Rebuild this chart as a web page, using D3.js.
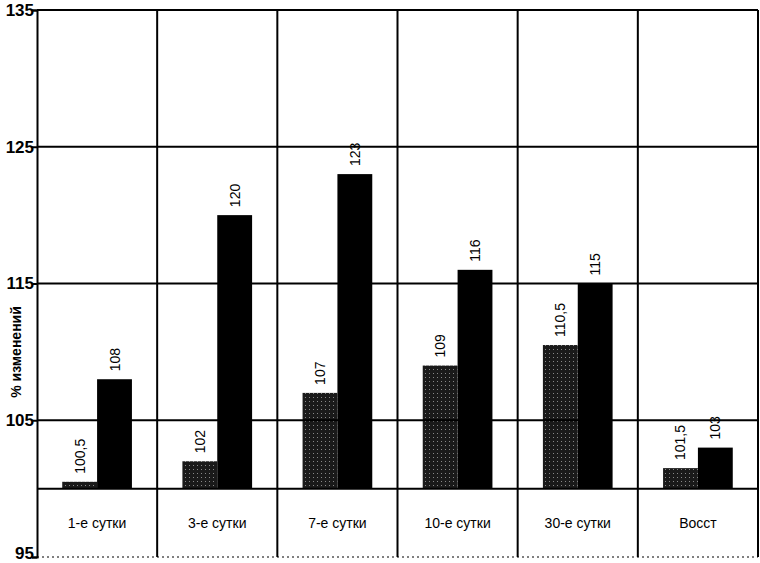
<!DOCTYPE html>
<html>
<head>
<meta charset="utf-8">
<script src="https://cdn.jsdelivr.net/npm/d3@7"></script>
<style>
  body { margin: 0; background: #fff; }
  text { font-family: Arial, "Liberation Sans", sans-serif; }
</style>
</head>
<body>
<svg id="chart" width="760" height="563"></svg>
<script>
var categories = ["1-е сутки", "3-е сутки", "7-е сутки", "10-е сутки", "30-е сутки", "Восст"]
var series1 = [100.5, 102, 107, 109, 110.5, 101.5]
var series2 = [108, 120, 123, 116, 115, 103]
var yTicks = [95, 105, 115, 125, 135]
var gridValues = [100, 105, 115, 125, 135]

var svg = d3.select("#chart")
var mLeft = 37, mRight = 758, mTop = 10, mBottom = 557

var x = d3.scaleBand().domain(categories).range([mLeft, mRight])
var y = d3.scaleLinear().domain([95, 135]).range([mBottom, mTop])

var defs = svg.append("defs")
var pat = defs.append("pattern")
  .attr("id", "dots").attr("width", 4).attr("height", 4)
  .attr("patternUnits", "userSpaceOnUse")
pat.append("rect").attr("width", 4).attr("height", 4).attr("fill", "#1a1a1a")
pat.append("rect").attr("x", 1).attr("y", 1).attr("width", 1).attr("height", 1).attr("fill", "#888")

// bars
var bw = x.bandwidth() * 0.29
var off = x.bandwidth() * 0.21
var g = svg.append("g")

g.selectAll(".b1").data(series1).enter().append("rect")
  .attr("x", function (d, i) { return x(categories[i]) + off })
  .attr("y", function (d) { return y(d) })
  .attr("width", bw)
  .attr("height", function (d) { return y(100) - y(d) })
  .attr("fill", "url(#dots)")

g.selectAll(".b2").data(series2).enter().append("rect")
  .attr("x", function (d, i) { return x(categories[i]) + off + bw })
  .attr("y", function (d) { return y(d) })
  .attr("width", bw)
  .attr("height", function (d) { return y(100) - y(d) })
  .attr("fill", "#000")

function fmt(v) { return String(v).replace(".", ",") }

function labels(data, shift) {
  g.selectAll(null).data(data).enter().append("text")
    .attr("transform", function (d, i) {
      var cx = x(categories[i]) + off + shift + bw / 2
      return "translate(" + (cx + 5) + "," + (y(d) - 8) + ") rotate(-90)"
    })
    .attr("font-size", 14)
    .attr("text-anchor", "start")
    .text(fmt)
}
labels(series1, 0)
labels(series2, bw)

// grid
svg.selectAll(".hg").data(gridValues).enter().append("line")
  .attr("x1", mLeft).attr("x2", mRight)
  .attr("y1", function (d) { return y(d) }).attr("y2", function (d) { return y(d) })
  .attr("stroke", "#000").attr("stroke-width", 2)

svg.append("line").attr("x1", mLeft).attr("x2", mRight)
  .attr("y1", mBottom).attr("y2", mBottom)
  .attr("stroke", "#000").attr("stroke-width", 1).attr("stroke-dasharray", "2,3")

svg.selectAll(".vg").data(categories).enter().append("line")
  .attr("x1", function (d) { return x(d) + x.bandwidth() })
  .attr("x2", function (d) { return x(d) + x.bandwidth() })
  .attr("y1", mTop).attr("y2", mBottom)
  .attr("stroke", "#000").attr("stroke-width", 2)

// y axis
var yAxis = d3.axisLeft(y).tickValues(yTicks).tickSize(5).tickFormat(d3.format("d"))
var ay = svg.append("g").attr("transform", "translate(" + mLeft + ",0)").call(yAxis)
ay.select(".domain").attr("stroke-width", 2)
ay.selectAll(".tick line").attr("stroke-width", 2)
ay.selectAll(".tick text").attr("font-size", 17).attr("font-weight", "bold")
  .attr("font-family", "Arial, 'Liberation Sans', sans-serif").attr("fill", "#000").attr("x", -3)
  .attr("dy", function (d) { return d === 95 ? "0.1em" : "0.32em" })

svg.append("text")
  .attr("transform", "translate(21,352) rotate(-90)")
  .attr("text-anchor", "middle")
  .attr("font-size", 14).attr("font-weight", "bold")
  .text("% изменений")

// category labels
svg.selectAll(".cl").data(categories).enter().append("text")
  .attr("x", function (d) { return x(d) + x.bandwidth() / 2 })
  .attr("y", (y(100) + y(95)) / 2 + 5)
  .attr("text-anchor", "middle")
  .attr("font-size", 14)
  .text(function (d) { return d })
</script>
</body>
</html>
